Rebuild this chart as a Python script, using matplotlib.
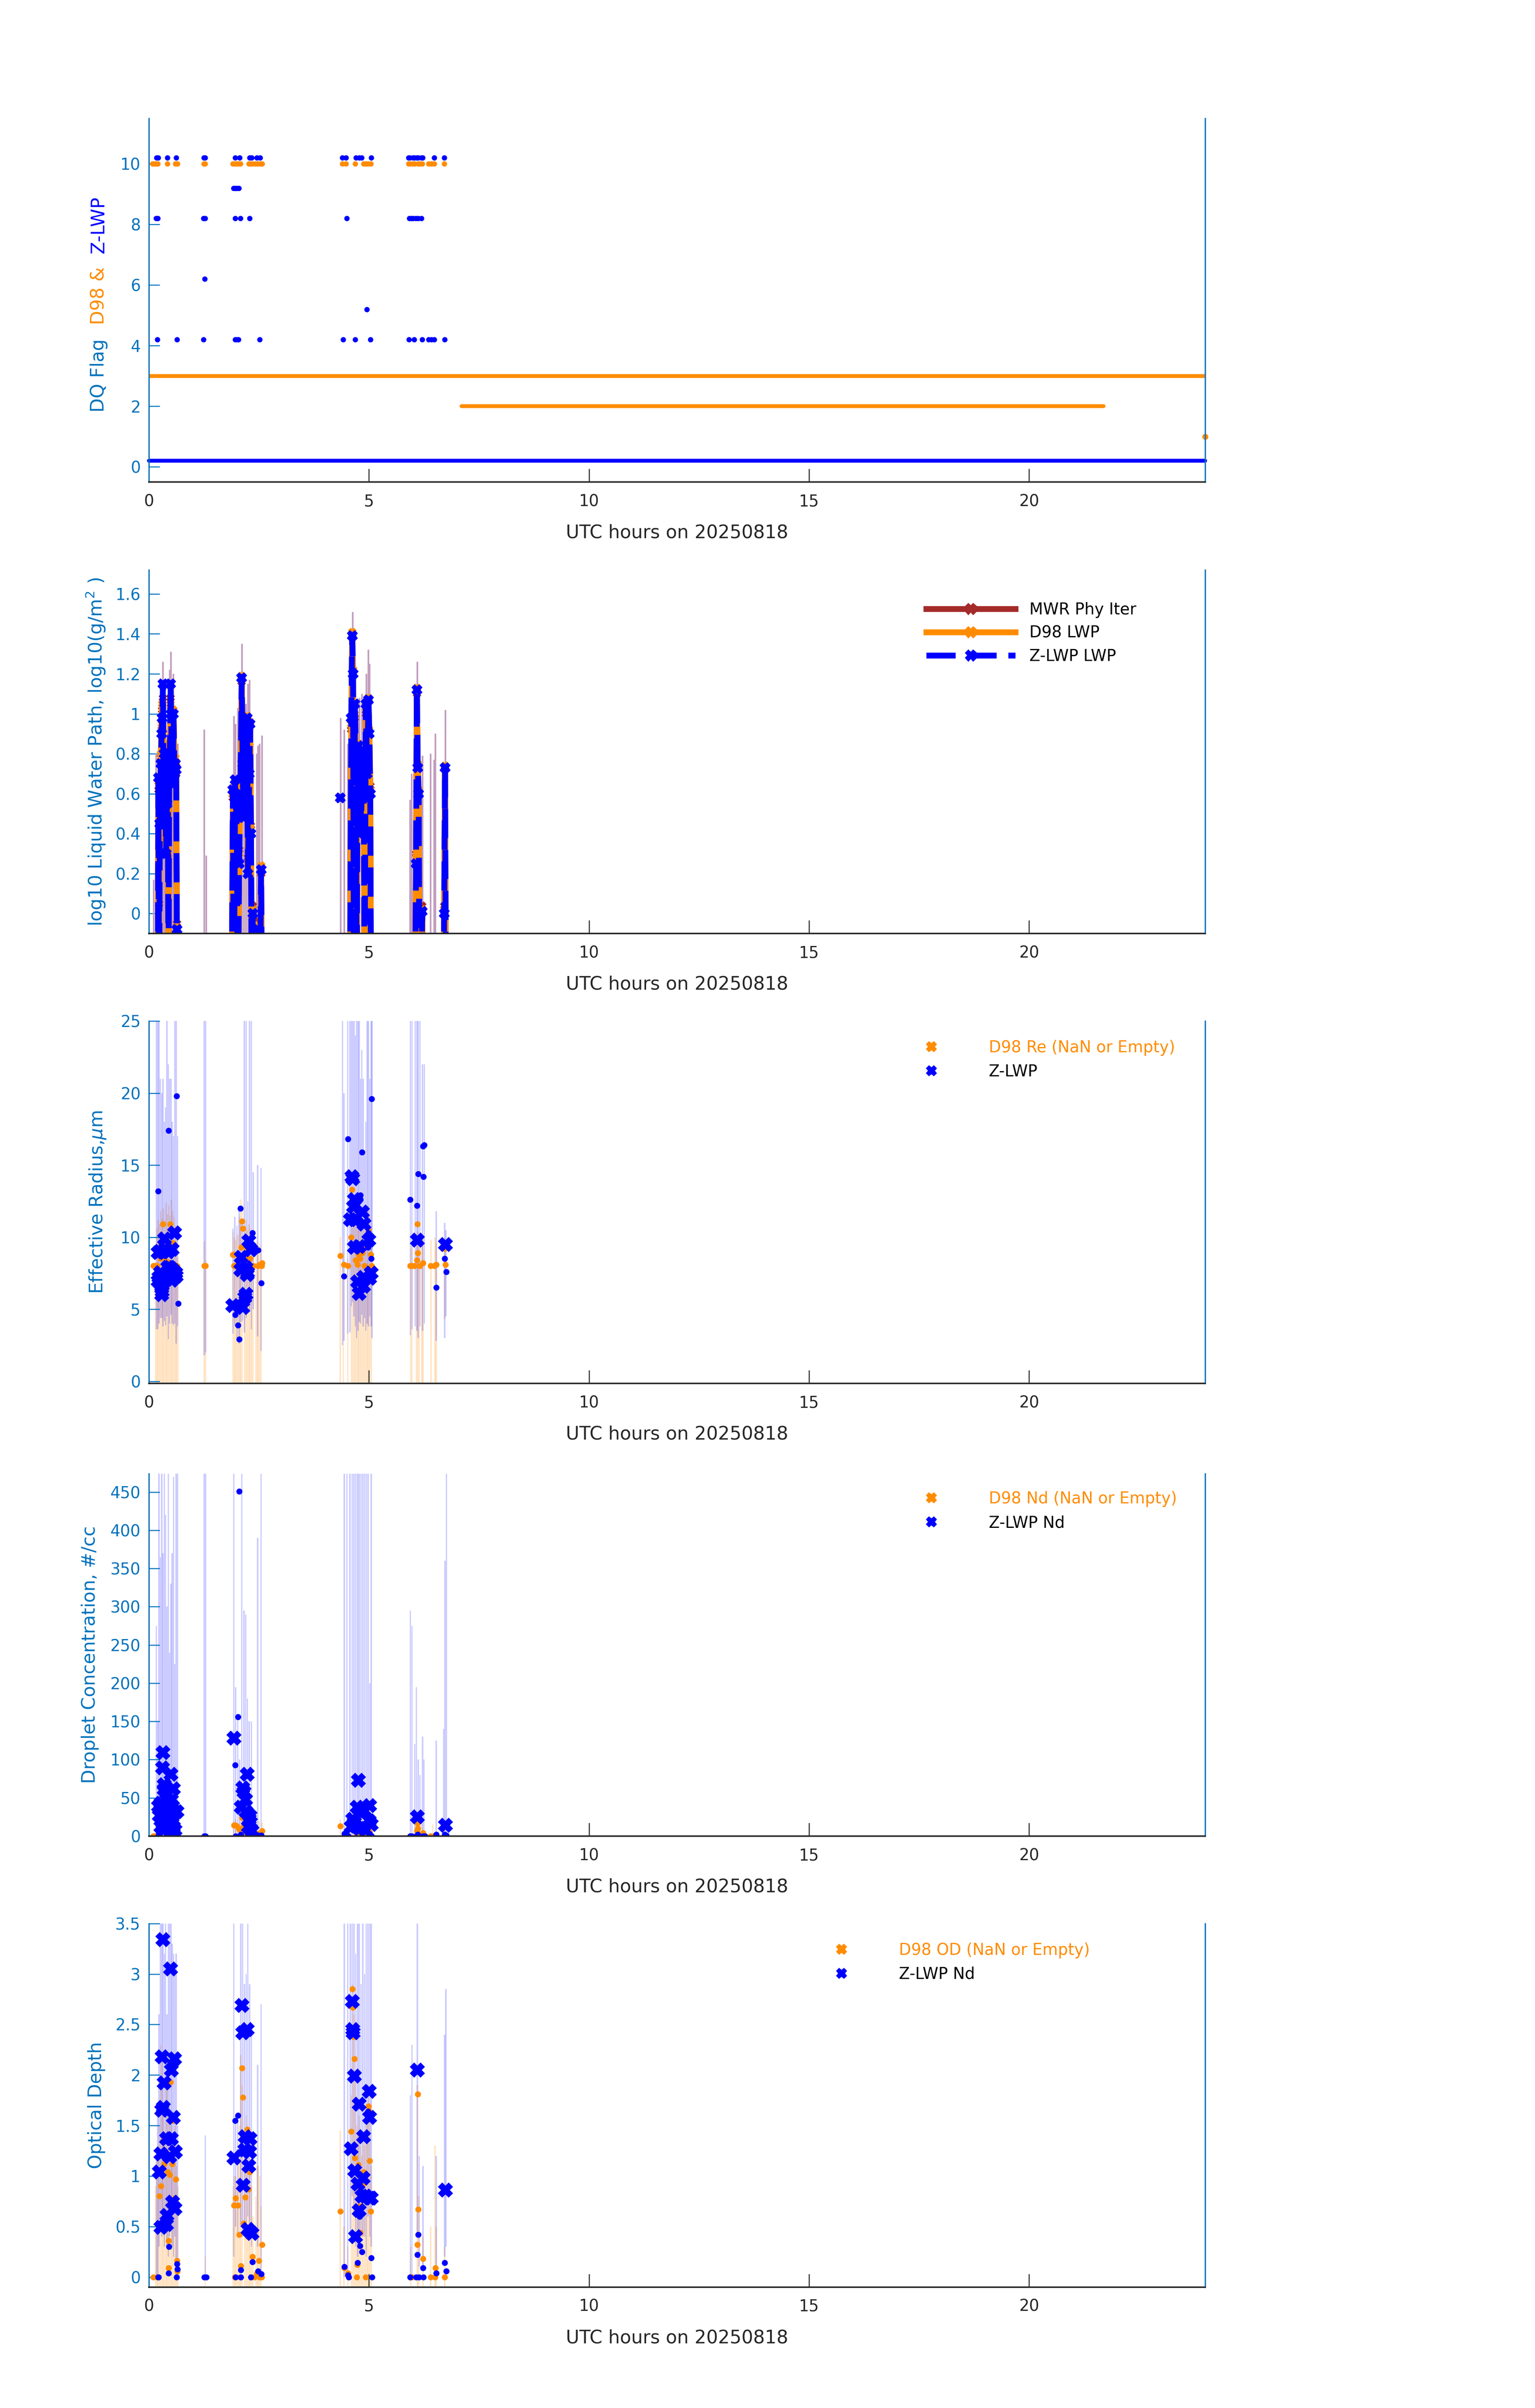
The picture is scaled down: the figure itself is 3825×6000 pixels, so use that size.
import numpy as np
import matplotlib.pyplot as plt
from matplotlib.lines import Line2D
from matplotlib.ticker import FuncFormatter

nan = np.nan

AXBLUE = '#0072BD'
ORANGE = '#FF8C00'
BLUE = '#0000FF'
BROWN = '#A52A2A'
MAUVE = '#C29EBE'
DARK = '#262626'

xlab = 'UTC hours on 20250818'
xticks = [0, 5, 10, 15, 20]

# ---------------- panel 1: DQ flags ----------------
d98_run_start = [0.0, 7.1]
d98_run_end = [24.0, 21.7]
d98_run_flag = [3, 2]
zlwp_run_start = [0.0]
zlwp_run_end = [24.0]
zlwp_run_flag = [0.2]

d98_flag10_t = [0.08, 0.11, 0.14, 0.17, 0.20, 0.42, 0.60, 0.65, 1.25, 1.28, 1.91, 1.94,
                1.97, 2.00, 2.04, 2.08, 2.27, 2.31, 2.35, 2.42, 2.46, 2.50, 2.54, 2.57,
                4.40, 4.48, 4.69, 4.88, 4.93, 4.98, 5.04, 5.90, 5.94, 6.00, 6.04, 6.12,
                6.16, 6.21, 6.36, 6.42, 6.48, 6.71]
d98_flag1_t = [24.0]

zlwp_flag_levels = [10.2, 9.2, 8.2, 6.2, 5.2, 4.2]
zlwp_flag_times = [
    [0.17, 0.21, 0.42, 0.62, 1.25, 1.28, 1.96, 2.06, 2.29, 2.33, 2.45, 2.53, 4.40, 4.48,
     4.71, 4.78, 4.83, 5.05, 5.90, 5.93, 6.00, 6.03, 6.08, 6.12, 6.19, 6.22, 6.48, 6.71],
    [1.92, 1.96, 2.00, 2.04],
    [0.16, 0.20, 1.24, 1.28, 1.96, 2.08, 2.29, 4.50, 5.92, 5.96, 6.00, 6.06, 6.12, 6.19],
    [1.27],
    [4.95],
    [0.19, 0.64, 1.24, 1.96, 2.00, 2.03, 2.52, 4.41, 4.69, 5.03, 5.91, 6.03, 6.21,
     6.36, 6.42, 6.48, 6.72],
]

# ---------------- panel 2: log10 LWP ----------------
lwp_t = [0.20, 0.215, 0.23, 0.25, 0.27, 0.29, 0.305, 0.32, 0.335, 0.35, 0.37, 0.39, 0.41,
         0.43, 0.445, 0.46, 0.475, 0.49, 0.505, 0.52, 0.54, 0.56, 0.58, 0.60, 0.62, 0.635, 0.65,
         1.00,
         1.88, 1.91, 1.93, 1.96, 1.98, 2.00, 2.02, 2.05, 2.08, 2.11, 2.13, 2.15, 2.17, 2.20,
         2.23, 2.25, 2.28, 2.30, 2.32, 2.34, 2.36,
         2.40,
         2.45, 2.48, 2.52, 2.55, 2.57,
         3.00,
         4.35,
         4.45,
         4.57, 4.60, 4.62, 4.64, 4.66, 4.68, 4.70, 4.72, 4.74, 4.76, 4.78, 4.80, 4.82, 4.85,
         4.88, 4.90, 4.93, 4.96, 4.99, 5.01, 5.03, 5.05,
         5.50,
         6.05, 6.07, 6.09, 6.11, 6.13, 6.15,
         6.17,
         6.19, 6.21, 6.23,
         6.50,
         6.69, 6.71, 6.73, 6.75]

zlwp_lwp = [-0.5, 0.68, -0.5, 0.45, 0.75, 0.90, 0.98, 1.15, 0.55, 0.80, 0.70, 0.30, 0.55,
            0.80, -0.5, 0.65, 0.75, 1.15, 1.00, 0.75, 0.65, 1.00, 0.70, 0.75, 0.72, -0.08, -0.5,
            nan,
            -0.5, 0.62, -0.5, 0.67, 0.55, 0.35, -0.5, 0.25, 0.60, 1.18, 0.75, 0.48, 0.90, 0.55,
            0.98, 0.20, 0.70, 0.95, 0.40, -0.5, 0.0,
            nan,
            -0.5, -0.08, -0.5, 0.22, -0.5,
            nan,
            0.58,
            nan,
            -0.5, 0.98, 1.39, 1.20, -0.5, 1.05, 0.82, -0.5, 0.60, 0.84, 0.40, 0.78, 0.45, 0.70,
            0.81, -0.5, 1.05, 0.70, 1.07, 0.90, 0.60, -0.5,
            nan,
            -0.5, 0.25, 1.12, 0.73, 0.60, -0.5,
            nan,
            -0.5, 0.01, -0.5,
            nan,
            -0.5, 0.0, 0.73, -0.5]

d98_lwp = [-0.5, 0.66, -0.1, 0.50, 0.80, 0.95, 1.05, 1.05, 0.60, 0.78, 0.72, 0.35, 0.60,
           0.85, -0.5, 0.70, 0.80, 1.05, 1.02, 0.78, 0.70, 1.02, 0.75, 0.78, 0.74, -0.08, -0.5,
           nan,
           -0.5, 0.60, -0.5, 0.66, 0.58, 0.40, -0.5, 0.30, 0.62, 1.19, 0.80, 0.50, 0.88, 0.60,
           0.99, 0.25, 0.72, 0.96, 0.42, -0.5, 0.02,
           nan,
           -0.5, -0.06, -0.5, 0.24, -0.5,
           nan,
           nan,
           nan,
           -0.5, 0.95, 1.41, 1.22, -0.5, 1.00, 0.84, -0.5, 0.62, 0.85, 0.42, 0.80, 0.48, 0.72,
           0.82, -0.5, 1.03, 0.72, 1.08, 0.92, 0.62, -0.5,
           nan,
           -0.5, 0.28, 1.13, 0.75, 0.62, -0.5,
           nan,
           -0.5, 0.02, -0.5,
           nan,
           -0.5, 0.02, 0.74, -0.5]

mwr_lwp = [-0.5, 0.62, 0.05, 0.48, 0.78, 0.92, 1.02, 1.08, 0.58, 0.76, 0.70, 0.38, 0.58,
           0.82, -0.5, 0.68, 0.78, 1.08, 1.00, 0.76, 0.68, 1.00, 0.72, 0.76, 0.70, -0.05, -0.5,
           nan,
           -0.5, 0.58, -0.5, 0.64, 0.56, 0.42, -0.5, 0.32, 0.60, 1.16, 0.78, 0.52, 0.86, 0.62,
           0.96, 0.28, 0.70, 0.94, 0.44, -0.5, 0.04,
           nan,
           -0.5, -0.04, -0.5, 0.20, -0.5,
           nan,
           nan,
           nan,
           -0.5, 0.92, 1.38, 1.20, -0.5, 0.98, 0.82, -0.5, 0.60, 0.83, 0.44, 0.78, 0.50, 0.70,
           0.80, -0.5, 1.00, 0.70, 1.06, 0.90, 0.64, -0.5,
           nan,
           -0.5, 0.30, 1.10, 0.74, 0.60, -0.5,
           nan,
           -0.5, 0.04, -0.5,
           nan,
           -0.5, 0.04, 0.72, -0.5]

mwr_err_t = [0.11, 0.16, 0.19, 0.24, 0.28, 0.32, 0.35, 0.385, 0.43, 0.475, 0.50, 0.526, 0.56,
             0.59, 0.62, 0.655, 1.26, 1.30, 1.93, 1.97, 2.02, 2.05, 2.12, 2.16, 2.21, 2.25,
             2.29, 2.32, 2.36, 2.45, 2.48, 2.52, 2.57, 4.36, 4.44, 4.52, 4.55, 4.60, 4.63,
             4.67, 4.71, 4.75, 4.79, 4.84, 4.89, 4.94, 4.99, 5.02, 5.05, 5.94, 5.97, 6.04,
             6.10, 6.16, 6.22, 6.40, 6.48, 6.51, 6.70, 6.74]
mwr_err_lo = [-0.5, -0.5, -0.5, -0.5, -0.5, -0.5, -0.5, -0.5, -0.5, -0.5, -0.5, -0.5, -0.5,
              -0.5, -0.5, -0.5, -0.5, -0.5, -0.5, -0.5, -0.5, -0.5, -0.5, -0.5, -0.5, -0.5,
              -0.5, -0.5, -0.5, -0.5, -0.5, -0.5, -0.5, -0.5, -0.5, -0.5, -0.5, 0.2, 0.4,
              -0.5, -0.5, -0.5, -0.5, -0.5, -0.5, 0.4, 0.3, -0.5, -0.5, -0.5, -0.5, -0.5,
              -0.5, -0.5, -0.5, -0.5, -0.5, -0.5, -0.5, -0.5]
mwr_err_hi = [0.17, 0.80, 0.55, 0.99, 1.05, 1.26, 1.10, 1.00, 0.90, 1.22, 1.31, 1.10, 1.20,
              1.00, 0.80, 0.85, 0.92, 0.29, 0.99, 0.95, 1.03, 0.92, 1.35, 1.10, 1.05, 1.15,
              1.17, 0.95, 0.85, 0.80, 0.84, 0.85, 0.89, 0.98, 0.92, 0.85, 0.90, 1.20, 1.51,
              1.30, 1.05, 1.00, 1.08, 1.10, 1.00, 1.20, 1.32, 1.25, 1.00, 0.57, 0.70, 0.74,
              1.26, 0.60, 0.79, 0.80, 0.77, 0.90, 0.55, 1.02]

# ---------------- panel 3: effective radius ----------------
re_z_t = [0.21, 0.36, 0.58, 0.32, 0.44, 0.53, 0.23, 0.21, 0.26, 0.29, 0.30, 0.29, 0.41, 0.47,
          0.52, 0.52, 0.61, 0.62, 0.43, 0.38, 0.25, 0.40, 0.48,
          1.91, 2.10, 2.13, 2.09, 2.21, 2.23, 2.27, 2.32, 2.18, 2.21, 2.24,
          4.61, 4.63, 4.67, 4.65, 4.58, 4.68, 4.67, 4.78, 4.85, 4.89, 4.74, 4.78, 4.88, 4.88,
          5.00, 5.02, 5.05, 6.10, 6.74]
re_z_v = [8.93, 9.87, 10.3, 8.98, 8.98, 9.15, 7.2, 6.94, 7.53, 6.6, 6.24, 6.0, 7.1, 7.9,
          7.8, 7.0, 7.5, 7.3, 7.9, 7.4, 9.0, 9.1, 7.6,
          5.25, 8.6, 5.12, 7.73, 7.88, 7.39, 9.75, 9.13, 5.8, 6.04, 7.53,
          14.2, 14.05, 12.6, 12.1, 11.2, 11.2, 9.3, 9.36, 11.75, 10.9, 6.9, 6.1, 7.2, 6.6,
          9.8, 7.15, 7.5, 9.8, 9.5]
re_zdot_t = [0.205, 0.443, 0.63, 0.64, 0.667, 1.96, 2.02, 2.05, 2.08, 2.35, 2.48, 2.55, 4.43,
             4.52, 4.81, 4.81, 4.84, 4.98, 4.99, 5.05, 5.06, 5.94, 6.09, 6.12, 6.23, 6.24,
             6.26, 6.53, 6.72, 6.76]
re_zdot_v = [13.2, 17.4, 19.8, 10.1, 5.4, 4.6, 3.9, 2.9, 12.0, 10.3, 9.1, 6.8, 7.3, 16.8, 12.9,
             12.6, 15.9, 9.3, 10.3, 8.5, 19.6, 12.6, 12.2, 14.4, 16.3, 14.2, 16.4, 6.5, 8.5, 7.6]
re_d98_t = [0.10, 0.13, 0.16, 0.19, 0.24, 0.26, 0.27, 0.32, 0.35, 0.38, 0.42, 0.48, 0.50,
            0.55, 0.58, 0.64, 0.65, 1.26, 1.29, 1.91, 1.94, 1.93, 1.97, 2.00, 2.04, 2.12,
            2.13, 2.10, 2.18, 2.23, 2.30, 2.37, 2.48, 2.52, 2.56, 2.57, 4.35, 4.43, 4.52,
            4.61, 4.60, 4.70, 4.74, 4.76, 4.80, 4.85, 4.88, 4.90, 4.99, 5.02, 5.04, 5.06,
            5.94, 5.98, 6.04, 6.10, 6.11, 6.09, 6.16, 6.23, 6.40, 6.48, 6.53, 6.72, 6.74]
re_d98_v = [8.0, 8.0, 8.0, 8.0, 8.8, 8.5, 9.6, 10.9, 8.6, 9.3, 8.3, 10.9, 9.2, 9.6, 8.9, 8.0,
            7.9, 8.0, 8.0, 8.8, 8.8, 8.0, 8.0, 8.0, 8.0, 11.1, 10.6, 9.3, 8.6, 9.2, 8.5, 8.0,
            8.0, 8.1, 8.0, 8.2, 8.7, 8.1, 8.0, 13.3, 10.0, 8.4, 8.1, 8.8, 8.5, 8.9, 9.2, 8.0,
            10.5, 9.6, 8.8, 8.0, 8.0, 8.0, 8.0, 10.9, 8.9, 8.4, 8.0, 8.2, 8.0, 8.0, 8.1, 9.2,
            8.1]
re_d98_bar_t = [0.15, 0.18, 0.21, 0.24, 0.27, 0.30, 0.33, 0.36, 0.39, 0.42, 0.45, 0.48, 0.51,
                0.54, 0.57, 0.60, 0.63, 0.66, 1.26, 1.29,
                1.91, 1.94, 1.97, 2.00, 2.03, 2.06, 2.09, 2.12, 2.18, 2.21, 2.24, 2.27, 2.30,
                2.33, 2.36, 2.43, 2.46, 2.49, 2.52, 2.55,
                4.35, 4.42, 4.52, 4.60, 4.63, 4.66, 4.69, 4.72, 4.75, 4.78, 4.81, 4.84, 4.87,
                4.90, 4.93, 4.96, 4.99, 5.02, 5.05,
                5.95, 5.98, 6.08, 6.11, 6.14, 6.20, 6.23, 6.41, 6.50, 6.53, 6.72]
re_d98_bar_lo = [-0.3, -0.3, -0.3, -0.3, -0.3, -0.3, -0.3, -0.3, -0.3, -0.3, -0.3, -0.3, -0.3,
                 -0.3, -0.3, -0.3, -0.3, -0.3, -0.3, -0.3,
                 -0.3, -0.3, -0.3, -0.3, -0.3, -0.3, -0.3, -0.3, -0.3, -0.3, -0.3, -0.3, -0.3,
                 -0.3, -0.3, -0.3, -0.3, -0.3, -0.3, -0.3,
                 -0.3, -0.3, -0.3, -0.3, -0.3, -0.3, -0.3, -0.3, -0.3, -0.3, -0.3, -0.3, -0.3,
                 -0.3, -0.3, -0.3, -0.3, -0.3, -0.3,
                 -0.3, -0.3, -0.3, -0.3, -0.3, -0.3, -0.3, -0.3, -0.3, -0.3, 4.3]
re_d98_bar_hi = [8.3, 10.6, 11.2, 10.9, 11.8, 11.3, 12.0, 11.2, 12.4, 11.6, 12.2, 11.5, 12.6,
                 11.8, 11.4, 10.8, 9.9, 8.6, 9.7, 8.4,
                 10.4, 10.0, 9.8, 10.2, 10.1, 11.4, 12.6, 12.0, 10.8, 11.2, 10.5, 10.9, 10.6,
                 10.2, 9.6, 9.5, 9.7, 9.4, 9.6, 9.3,
                 10.0, 9.0, 8.5, 12.2, 13.5, 12.8, 11.7, 10.9, 11.5, 12.0, 11.4, 11.0, 10.8,
                 10.5, 11.1, 11.8, 12.2, 11.5, 10.3,
                 9.2, 9.6, 10.2, 10.4, 9.5, 9.8, 10.0, 9.8, 10.0, 9.6, 9.5]
re_z_bar_t = [0.17, 0.20, 0.23, 0.26, 0.29, 0.32, 0.35, 0.38, 0.41, 0.44, 0.47, 0.50, 0.53,
              0.56, 0.59, 0.62, 0.65, 1.26, 1.29,
              1.91, 1.95, 2.00, 2.05, 2.09, 2.13, 2.17, 2.21, 2.25, 2.29, 2.33, 2.37, 2.47, 2.55,
              4.40, 4.43, 4.52, 4.57, 4.60, 4.63, 4.66, 4.69, 4.72, 4.75, 4.78, 4.81, 4.84,
              4.87, 4.90, 4.93, 4.96, 4.99, 5.02, 5.05, 5.07,
              5.94, 5.98, 6.05, 6.09, 6.12, 6.16, 6.22, 6.26, 6.53, 6.72, 6.75]
re_z_bar_lo = [3.6, 3.6, 4.0, 4.4, 4.4, 3.8, 4.2, 3.9, 4.5, 2.9, 4.0, 4.6, 4.0, 3.9, 4.0, 2.6,
               3.8, 1.8, 2.0,
               3.3, 3.8, 3.0, 2.6, 4.1, 4.2, 3.4, 4.4, 5.2, 4.8, 3.6, 5.0, 3.1, 2.1,
               2.5, 2.8, 3.3, 3.4, 5.2, 5.5, 4.5, 3.8, 3.0, 3.5, 4.1, 4.0, 4.6, 3.8, 4.4, 3.5,
               4.0, 3.8, 4.5, 3.8, 3.0,
               3.2, 3.6, 3.8, 3.5, 3.0, 3.8, 3.5, 4.0, 2.8, 3.0, 4.5]
re_z_bar_hi = [26, 26, 26, 21, 20, 21, 18, 19, 26, 22, 21, 21, 18, 17, 25, 26, 17, 26, 26,
               10.6, 11.4, 10.8, 12.0, 11.2, 10.9, 26, 26, 12.5, 26, 26, 14.5, 15.0, 14.8,
               26, 20, 26, 26, 26, 26, 26, 24, 26, 26, 26, 21, 23, 21, 16, 18, 26, 26, 21, 26,
               26,
               26, 26, 26, 26, 26, 26, 22, 22, 11.8, 11.0, 10.5]

# ---------------- panel 4: droplet concentration ----------------
nd_z_t = [0.24, 0.22, 0.27, 0.32, 0.31, 0.35, 0.35, 0.50, 0.56, 0.40, 0.51, 0.54, 0.46, 0.59,
          0.64, 0.27, 0.33, 0.43, 0.56, 0.59, 0.53, 0.38, 0.48,
          1.93, 2.23, 2.13, 2.16, 2.20, 2.10, 2.21, 2.30, 2.31, 2.26, 2.34, 2.28,
          4.76, 4.73, 4.83, 4.90, 5.02, 5.01, 5.05, 4.63, 4.60, 4.70, 4.79, 4.92, 4.67, 4.85,
          6.10, 6.74]
nd_z_v = [26.6, 39, 43, 109, 89, 67, 61, 81, 62, 47, 47, 39, 32, 31, 32, 12, 8, 13, 12, 8, 17,
          15, 10,
          128, 81, 63, 58, 48, 38, 32, 26, 18, 12, 7, 22,
          73, 38, 35, 33, 40, 20, 15, 22, 12, 13, 10, 8, 18, 12,
          25, 14]
nd_zdot_t = [2.05, 2.02, 1.96, 0.205, 0.22, 0.45, 0.64, 0.66, 1.26, 1.29, 1.97, 2.09, 2.32,
             2.48, 2.55, 4.44, 4.53, 5.06, 5.94, 5.97, 6.07, 6.11, 6.14, 6.23, 6.27, 6.53,
             6.72, 6.76]
nd_zdot_v = [451, 156, 93, 0, 0, 1, 2, 0, 0, 0, 0, 2, 0, 1, 1, 3, 0, 0, 0, 0, 0, 2, 0, 0, 0,
             2, 2, 1]
nd_d98_t = [0.10, 0.13, 0.16, 0.26, 0.30, 0.37, 0.41, 0.50, 0.56, 0.60, 1.93, 1.96, 2.00,
            2.05, 2.12, 2.14, 2.20, 2.48, 2.52, 2.57, 2.55, 4.35, 4.72, 4.90, 4.75, 5.02,
            6.10, 6.11, 6.09, 6.23, 6.40, 6.48, 6.50]
nd_d98_v = [0, 0, 0, 15, 20, 22, 14, 18, 21, 12, 14, 14, 13, 9, 24, 12, 5, 3, 1, 7, 0, 13, 0,
            0, 16, 5, 17, 10, 7, 4, 0, 0, 1]
nd_z_bar_t = [0.17, 0.20, 0.23, 0.26, 0.29, 0.32, 0.35, 0.38, 0.41, 0.44, 0.47, 0.50, 0.53,
              0.56, 0.59, 0.62, 0.65, 1.26, 1.29,
              1.93, 1.97, 2.02, 2.06, 2.11, 2.16, 2.20, 2.24, 2.28, 2.33, 2.47, 2.55,
              4.44, 4.50, 4.57, 4.62, 4.66, 4.70, 4.74, 4.78, 4.82, 4.86, 4.90, 4.94, 4.98,
              5.02, 5.05,
              5.94, 5.98, 6.04, 6.08, 6.12, 6.16, 6.22, 6.25, 6.53, 6.70, 6.73, 6.76]
nd_z_bar_hi = [275, 150, 480, 365, 480, 370, 480, 420, 300, 480, 240, 330, 370, 470, 225, 480,
               480, 480, 480,
               480, 195, 160, 100, 480, 295, 290, 180, 150, 150, 390, 480,
               480, 480, 480, 480, 480, 480, 480, 480, 480, 480, 480, 480, 480, 200, 480,
               295, 275, 120, 195, 100, 80, 130, 100, 125, 140, 360, 480]
nd_d98_bar_t = [0.15, 0.20, 0.25, 0.30, 0.35, 0.40, 0.45, 0.50, 0.55, 0.60, 0.65,
                1.92, 1.97, 2.02, 2.08, 2.13, 2.18, 2.24, 2.30, 2.36, 2.45, 2.51, 2.57,
                4.35, 4.60, 4.65, 4.70, 4.75, 4.80, 4.85, 4.90, 4.95, 5.00, 5.05,
                6.10, 6.20, 6.45, 6.72]
nd_d98_bar_hi = [22, 25, 28, 24, 26, 27, 23, 25, 26, 22, 20,
                 20, 22, 18, 21, 25, 19, 21, 20, 18, 16, 20, 18,
                 22, 18, 24, 22, 20, 21, 19, 23, 20, 17, 15,
                 28, 20, 15, 10]

# ---------------- panel 5: optical depth ----------------
od_z_t = [0.32, 0.49, 0.30, 0.58, 0.51, 0.35, 0.33, 0.29, 0.56, 0.40, 0.51, 0.27, 0.47, 0.60,
          0.24, 0.54, 0.59, 0.41, 0.40, 0.27,
          1.93, 2.12, 2.13, 2.23, 2.19, 2.30, 2.18, 2.29, 2.27, 2.14, 2.25, 2.34,
          4.62, 4.63, 4.64, 4.67, 5.01, 4.78, 5.02, 4.88, 4.60, 4.68, 4.87, 4.75, 4.84, 4.92,
          5.02, 5.05, 4.78, 4.70,
          6.10, 6.74]
od_z_v = [3.34, 3.05, 2.18, 2.16, 2.05, 1.92, 1.68, 1.65, 1.58, 1.37, 1.37, 1.22, 1.19, 1.24,
          1.04, 0.74, 0.68, 0.61, 0.52, 0.49,
          1.18, 2.69, 2.42, 2.45, 1.39, 1.37, 1.26, 1.24, 1.10, 0.91, 0.47, 0.43,
          2.73, 2.45, 2.42, 1.99, 1.84, 1.71, 1.58, 1.39, 1.27, 1.05, 0.98, 0.92, 0.80, 0.80,
          0.78, 0.78, 0.66, 0.40,
          2.05, 0.86]
od_zdot_t = [2.02, 1.96, 2.05, 4.79, 4.98, 4.84, 4.80, 4.74, 5.05, 4.44, 4.52, 4.54, 5.07,
             0.46, 0.45, 0.64, 0.65, 0.63, 0.205, 0.22, 1.26, 1.30, 1.97, 2.09, 2.09, 2.32,
             2.35, 2.48, 2.55, 5.94, 6.07, 6.14, 6.10, 6.12, 6.23, 6.24, 6.53, 6.72, 6.76]
od_zdot_v = [1.60, 1.55, 1.24, 0.60, 1.64, 0.25, 0.31, 0.14, 0.19, 0.10, 0.02, 0.0, 0.0,
             0.30, 0.04, 0.13, 0.08, 0.0, 0.0, 0.0, 0.0, 0.0, 0.0, 0.0, 0.07, 0.0,
             0.15, 0.06, 0.03, 0.0, 0.0, 0.0, 0.22, 0.42, 0.09, 0.0, 0.04, 0.14, 0.06]
od_d98_t = [0.10, 0.19, 0.24, 0.27, 0.31, 0.35, 0.43, 0.47, 0.49, 0.53, 0.56, 0.61, 0.45,
            0.45, 0.64, 0.65, 0.59,
            1.93, 1.97, 2.02, 2.05, 2.09, 2.12, 2.13, 2.15, 2.19, 2.23, 2.26, 2.29, 2.25,
            2.35, 2.45, 2.50, 2.57, 1.95, 2.08, 2.40, 2.52, 2.56,
            4.35, 4.44, 4.52, 4.60, 4.62, 4.63, 4.65, 4.67, 4.68, 4.72, 4.73, 4.76, 4.79,
            4.81, 4.88, 4.89, 4.92, 4.99, 5.01, 5.02, 5.04,
            5.94, 5.98, 6.10, 6.11, 6.12, 6.23, 6.40, 6.50, 6.51, 6.53, 6.72]
od_d98_v = [0.0, 0.0, 0.80, 0.90, 1.34, 1.12, 1.04, 1.01, 1.93, 1.12, 1.55, 0.97, 0.36,
            0.09, 0.16, 0.06, 0.78,
            0.71, 0.78, 0.71, 0.42, 0.11, 2.07, 1.78, 0.53, 0.79, 1.46, 0.87, 1.04, 0.40,
            0.20, 0.04, 0.16, 0.32, 0.0, 0.0, 0.0, 0.0, 0.0,
            0.65, 0.09, 0.04, 1.44, 2.85, 2.67, 2.38, 2.16, 1.18, 0.0, 0.12, 1.11, 0.70,
            0.44, 1.04, 0.93, 0.0, 1.69, 1.64, 1.15, 0.65,
            0.0, 0.0, 0.32, 1.81, 0.67, 0.18, 0.0, 0.0, 0.09, 0.04, 0.0]
od_z_bar_t = [0.17, 0.20, 0.23, 0.26, 0.29, 0.32, 0.35, 0.38, 0.41, 0.44, 0.47, 0.50, 0.53,
              0.56, 0.59, 0.62, 0.65, 1.28,
              1.93, 1.97, 2.02, 2.09, 2.13, 2.17, 2.21, 2.25, 2.29, 2.33, 2.47, 2.55,
              4.44, 4.52, 4.58, 4.62, 4.66, 4.70, 4.74, 4.78, 4.82, 4.86, 4.90, 4.94, 4.98,
              5.02, 5.05,
              5.94, 5.98, 6.10, 6.14, 6.23, 6.53, 6.72, 6.75]
od_z_bar_lo = [0.0, 0.0, 0.3, 0.5, 0.4, 0.6, 0.3, 0.5, 0.3, 0.2, 0.4, 0.5, 0.3, 0.2, 0.4,
               0.0, 0.0, 0.0,
               0.2, 0.5, 0.4, 0.5, 0.4, 0.4, 0.5, 0.6, 0.5, 0.3, 0.3, 0.0,
               0.0, 0.0, 0.4, 0.8, 0.6, 0.3, 0.2, 0.3, 0.4, 0.4, 0.4, 0.2, 0.6, 0.4, 0.3,
               0.0, 0.0, 0.4, 0.1, 0.1, 0.0, 0.2, 0.3]
od_z_bar_hi = [1.2, 1.6, 2.6, 3.6, 3.6, 3.6, 3.2, 3.6, 2.6, 3.6, 3.6, 3.6, 3.3, 3.2, 3.0,
               3.2, 1.5, 1.4,
               3.6, 1.6, 1.6, 3.6, 3.6, 2.9, 3.0, 3.6, 2.9, 2.4, 2.1, 2.7,
               3.6, 3.6, 3.6, 3.6, 3.6, 3.2, 3.6, 3.6, 2.9, 3.6, 3.0, 3.6, 3.6, 3.6, 3.6,
               1.8, 2.3, 3.6, 1.2, 1.1, 1.2, 2.4, 2.85]
od_d98_bar_t = [0.15, 0.18, 0.21, 0.24, 0.27, 0.30, 0.33, 0.36, 0.39, 0.42, 0.45, 0.48, 0.51,
                0.54, 0.57, 0.60, 0.63, 0.66, 1.28,
                1.91, 1.94, 1.97, 2.00, 2.03, 2.06, 2.09, 2.12, 2.18, 2.21, 2.24, 2.27, 2.30,
                2.33, 2.36, 2.43, 2.46, 2.49, 2.52, 2.55,
                4.35, 4.43, 4.52, 4.60, 4.63, 4.66, 4.69, 4.72, 4.75, 4.78, 4.81, 4.84, 4.87,
                4.90, 4.93, 4.96, 4.99, 5.02, 5.05,
                5.95, 6.10, 6.13, 6.23, 6.40, 6.50, 6.53, 6.72]
od_d98_bar_hi = [0.9, 1.2, 1.3, 1.5, 2.3, 2.2, 1.6, 1.4, 1.9, 2.0, 1.7, 1.6, 1.5, 1.3, 1.2,
                 1.5, 1.1, 0.9, 0.2,
                 0.9, 1.0, 1.0, 0.95, 1.1, 1.5, 2.2, 1.9, 1.2, 1.6, 1.5, 1.3, 1.1, 0.9, 0.6,
                 0.8, 1.1, 1.1, 1.0, 0.7,
                 1.45, 0.5, 0.3, 1.8, 2.9, 2.6, 2.0, 1.5, 1.4, 1.6, 1.3, 1.2, 1.4, 1.3, 1.5,
                 1.7, 1.9, 1.6, 1.1,
                 0.3, 1.9, 0.8, 0.4, 0.5, 1.3, 0.5, 0.3]


def fmt(v, pos):
    return f'{round(v, 6):g}'


def style(ax, ylim, yticks):
    ax.set_xlim(0, 24)
    ax.set_ylim(*ylim)
    ax.set_xticks(xticks)
    ax.set_yticks(yticks)
    ax.yaxis.set_major_formatter(FuncFormatter(fmt))
    ax.spines['top'].set_visible(False)
    for s in ('left', 'right'):
        ax.spines[s].set_color(AXBLUE)
        ax.spines[s].set_linewidth(0.8)
    ax.spines['bottom'].set_color(DARK)
    ax.spines['bottom'].set_linewidth(0.9)
    ax.tick_params(axis='x', direction='in', length=8, width=0.6, colors=DARK,
                   labelsize=9.5, pad=7, top=False)
    ax.tick_params(axis='y', direction='in', length=6.5, width=0.6, colors=AXBLUE,
                   labelsize=9.5, pad=5, right=False)
    ax.set_xlabel(xlab, fontsize=11, color=DARK, labelpad=8.5)


def marker_legend(ax, labels, x, y):
    hs = [Line2D([], [], ls='none', marker='X', ms=5.5, color=ORANGE, mec=ORANGE),
          Line2D([], [], ls='none', marker='X', ms=5.5, color=BLUE, mec=BLUE)]
    leg = ax.legend(hs, labels, loc='upper left', bbox_to_anchor=(x, y), frameon=False,
                    fontsize=9.5, handlelength=2.0, handletextpad=2.6, borderpad=0,
                    borderaxespad=0, labelspacing=0.5, numpoints=1)
    leg.get_texts()[0].set_color(ORANGE)
    leg.get_texts()[1].set_color('black')


fig = plt.figure(figsize=(12.75, 20), dpi=300)
L, W = 0.097, 0.688
bottoms = [0.7998, 0.6123, 0.4255, 0.2375, 0.0502]
heights = [0.151, 0.151, 0.1505, 0.1505, 0.151]
axes = [fig.add_axes([L, b, W, h]) for b, h in zip(bottoms, heights)]

# panel 1
ax = axes[0]
ax.hlines(d98_run_flag, d98_run_start, d98_run_end, color=ORANGE, lw=2.3, capstyle='round')
ax.hlines(zlwp_run_flag, zlwp_run_start, zlwp_run_end, color=BLUE, lw=2.3, capstyle='round',
          clip_on=False)
ax.plot(d98_flag10_t, np.full(len(d98_flag10_t), 10.0), ls='none', marker='o', ms=2.2,
        color=ORANGE)
ax.plot(d98_flag1_t, [1.0], ls='none', marker='o', ms=2.6, color=ORANGE, clip_on=False)
for lev, ts in zip(zlwp_flag_levels, zlwp_flag_times):
    ax.plot(ts, np.full(len(ts), lev), ls='none', marker='o', ms=2.2, color=BLUE)
style(ax, (-0.5, 11.5), [0, 2, 4, 6, 8, 10])
for s, c, yb in (('DQ Flag', AXBLUE, 0.192), ('D98 &', ORANGE, 0.433), ('Z-LWP', BLUE, 0.629)):
    ax.text(-0.0424, yb, s, color=c, fontsize=11, rotation=90, rotation_mode='anchor',
            ha='left', va='baseline', transform=ax.transAxes)

# panel 2
ax = axes[1]
ax.vlines(mwr_err_t, mwr_err_lo, mwr_err_hi, color=MAUVE, lw=1.0)
ax.plot(lwp_t, mwr_lwp, color=BROWN, lw=3.5, marker='X', ms=4, solid_capstyle='round')
ax.plot(lwp_t, d98_lwp, color=ORANGE, lw=3.5, marker='X', ms=4, solid_capstyle='round')
ax.plot(lwp_t, zlwp_lwp, color=BLUE, lw=3.5, ls=(0, (5, 2)), marker='X', ms=5.5)
style(ax, (-0.1, 1.72), [0, 0.2, 0.4, 0.6, 0.8, 1.0, 1.2, 1.4, 1.6])
ax.set_ylabel('log10 Liquid Water Path, log10(g/m$^2$ )', fontsize=11, color=AXBLUE)
ax.yaxis.set_label_coords(-0.040, 0.5)
hs = [Line2D([], [], color=BROWN, lw=3.5, marker='X', ms=6),
      Line2D([], [], color=ORANGE, lw=3.5, marker='X', ms=6),
      Line2D([], [], color=BLUE, lw=3.5, ls=(0, (5, 2)), marker='X', ms=6)]
ax.legend(hs, ['MWR Phy Iter', 'D98 LWP', 'Z-LWP LWP'], loc='upper left',
          bbox_to_anchor=(0.736, 0.912), frameon=False, fontsize=9.5, handlelength=5.6,
          handletextpad=0.9, borderpad=0, borderaxespad=0, labelspacing=0.45, numpoints=1)

# panels 3-5
panel_specs = [
    (axes[2], re_d98_bar_t, re_d98_bar_lo, re_d98_bar_hi, re_d98_t, re_d98_v,
     re_z_bar_t, re_z_bar_lo, re_z_bar_hi, re_zdot_t, re_zdot_v, re_z_t, re_z_v,
     (-0.15, 25), [0, 5, 10, 15, 20, 25], 'Effective Radius,$\\mu$m', -0.039,
     ['D98 Re (NaN or Empty)', 'Z-LWP'], (0.726, 0.948)),
    (axes[3], nd_d98_bar_t, None, nd_d98_bar_hi, nd_d98_t, nd_d98_v,
     nd_z_bar_t, None, nd_z_bar_hi, nd_zdot_t, nd_zdot_v, nd_z_t, nd_z_v,
     (0, 474), [0, 50, 100, 150, 200, 250, 300, 350, 400, 450],
     'Droplet Concentration, #/cc', -0.047,
     ['D98 Nd (NaN or Empty)', 'Z-LWP Nd'], (0.726, 0.952)),
    (axes[4], od_d98_bar_t, None, od_d98_bar_hi, od_d98_t, od_d98_v,
     od_z_bar_t, od_z_bar_lo, od_z_bar_hi, od_zdot_t, od_zdot_v, od_z_t, od_z_v,
     (-0.1, 3.5), [0, 0.5, 1, 1.5, 2, 2.5, 3, 3.5], 'Optical Depth', -0.041,
     ['D98 OD (NaN or Empty)', 'Z-LWP Nd'], (0.641, 0.948)),
]

for (ax, ob_t, ob_lo, ob_hi, od_t, od_v, zb_t, zb_lo, zb_hi, zd_t, zd_v, zx_t, zx_v,
     ylim, yt, ylab, ylx, labels, lpos) in panel_specs:
    lo = ob_lo if ob_lo is not None else ylim[0] - 0.02 * (ylim[1] - ylim[0])
    ax.bar(ob_t, np.subtract(ob_hi, lo), bottom=lo, width=0.032, color=ORANGE, alpha=0.22,
           lw=0)
    ax.plot(od_t, od_v, ls='none', marker='o', ms=2.6, color=ORANGE)
    zlo = zb_lo if zb_lo is not None else 0
    ax.bar(zb_t, np.subtract(zb_hi, zlo), bottom=zlo, width=0.032, color=BLUE, alpha=0.2,
           lw=0)
    ax.plot(zd_t, zd_v, ls='none', marker='o', ms=2.6, color=BLUE)
    ax.plot(zx_t, zx_v, ls='none', marker='X', ms=7.5, color=BLUE, mec=BLUE)
    style(ax, ylim, yt)
    ax.set_ylabel(ylab, fontsize=11, color=AXBLUE)
    ax.yaxis.set_label_coords(ylx, 0.5)
    marker_legend(ax, labels, *lpos)

fig.savefig('out.png', dpi=300)
